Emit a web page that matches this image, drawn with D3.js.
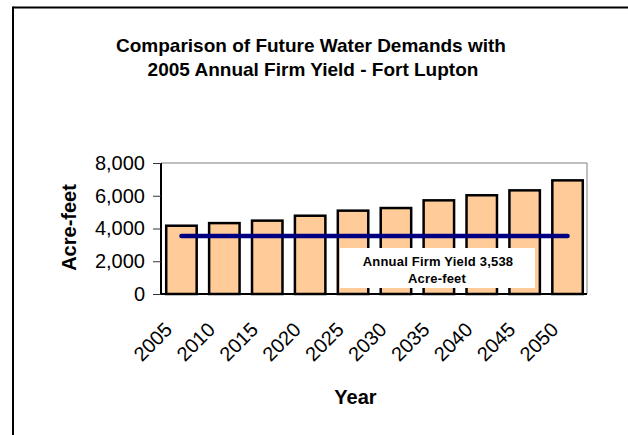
<!DOCTYPE html>
<html>
<head>
<meta charset="utf-8">
<script src="https://cdn.jsdelivr.net/npm/d3@7"></script>
<style>
  html, body { margin: 0; padding: 0; background: #fff; }
  svg { display: block; font-family: "Liberation Sans", Arial, sans-serif; }
</style>
</head>
<body>
<svg id="chart" width="628" height="435"></svg>
<script>
const years = ["2005","2010","2015","2020","2025","2030","2035","2040","2045","2050"];
const demand = [4170, 4330, 4480, 4780, 5090, 5250, 5720, 6030, 6330, 6940];
const firmYield = 3538;
const yTicks = [0, 2000, 4000, 6000, 8000];
const titleLines = ["Comparison of Future Water Demands with", "2005 Annual Firm Yield - Fort Lupton"];
const annotationLines = ["Annual Firm Yield 3,538", "Acre-feet"];

const svg = d3.select("#chart");

// outer frame (top and left visible)
svg.append("line").attr("x1", 13).attr("x2", 628).attr("y1", 7.5).attr("y2", 7.5)
  .attr("stroke", "#000").attr("stroke-width", 2);
svg.append("line").attr("x1", 13).attr("x2", 13).attr("y1", 6.5).attr("y2", 435)
  .attr("stroke", "#000").attr("stroke-width", 2);

// title
svg.append("text").attr("x", 311).attr("y", 51.5).attr("text-anchor", "middle")
  .attr("font-size", 19).attr("font-weight", "bold").text(titleLines[0]);
svg.append("text").attr("x", 313).attr("y", 75.5).attr("text-anchor", "middle")
  .attr("font-size", 19).attr("font-weight", "bold").text(titleLines[1]);

const plotLeft = 161, plotRight = 587, plotTop = 163, plotBottom = 294;

const x = d3.scaleBand().domain(years).range([160, 589])
  .paddingInner(0.29).paddingOuter(0.145);
const y = d3.scaleLinear().domain([0, 8000]).range([plotBottom, plotTop]);

// plot area border (top & right, gray)
svg.append("path")
  .attr("d", `M${plotLeft},${plotTop}H${plotRight}V${plotBottom}`)
  .attr("fill", "none").attr("stroke", "#808080").attr("stroke-width", 1);

// bars
svg.append("g").selectAll("rect").data(demand).join("rect")
  .attr("x", (d, i) => x(years[i]))
  .attr("y", d => y(d))
  .attr("width", x.bandwidth())
  .attr("height", d => y(0) - y(d))
  .attr("fill", "#FFCC99")
  .attr("stroke", "#000").attr("stroke-width", 2.5);

// annotation box
svg.append("rect").attr("x", 340).attr("y", 248).attr("width", 195).attr("height", 40)
  .attr("fill", "#fff");
svg.append("text").attr("x", 438).attr("y", 266).attr("text-anchor", "middle")
  .attr("font-size", 13).attr("font-weight", "bold").attr("letter-spacing", 0.2).text(annotationLines[0]);
svg.append("text").attr("x", 437).attr("y", 282.5).attr("text-anchor", "middle")
  .attr("font-size", 13).attr("font-weight", "bold").attr("letter-spacing", 0.2).text(annotationLines[1]);

// firm yield line
const cx = d => x(d) + x.bandwidth() / 2;
svg.append("line")
  .attr("x1", cx(years[0])).attr("x2", cx(years[years.length - 1]))
  .attr("y1", y(firmYield)).attr("y2", y(firmYield))
  .attr("stroke", "#000080").attr("stroke-width", 4.5).attr("stroke-linecap", "round");

// y axis
const yAxis = svg.append("g").attr("transform", `translate(${plotLeft},0)`)
  .call(d3.axisLeft(y).tickValues(yTicks).tickFormat(d3.format(",")).tickSize(8).tickPadding(8));
yAxis.select(".domain").attr("stroke", "#000").attr("stroke-width", 2)
  .attr("d", `M0,${plotTop}V${plotBottom}`);
yAxis.selectAll(".tick line").attr("stroke", "#333");
yAxis.selectAll(".tick text").attr("font-size", 20).attr("fill", "#000")
  .attr("font-family", "Liberation Sans, Arial, sans-serif");

// x axis
const xAxis = svg.append("g").attr("transform", `translate(0,${plotBottom})`)
  .call(d3.axisBottom(x).tickSize(0).tickPadding(0));
xAxis.select(".domain").attr("stroke", "#000").attr("stroke-width", 2)
  .attr("d", `M${plotLeft},0H${plotRight}`);
xAxis.selectAll(".tick text")
  .attr("font-size", 20).attr("fill", "#000")
  .attr("font-family", "Liberation Sans, Arial, sans-serif")
  .attr("text-anchor", "end")
  .attr("dy", 0)
  .attr("y", 0)
  .attr("transform", "translate(-8,37) rotate(-45)");

// axis titles
svg.append("text").attr("x", 355.5).attr("y", 404).attr("text-anchor", "middle")
  .attr("font-size", 20).attr("font-weight", "bold").text("Year");
svg.append("text").attr("transform", "translate(76,227.5) rotate(-90)")
  .attr("text-anchor", "middle").attr("font-size", 20).attr("font-weight", "bold").text("Acre-feet");
</script>
</body>
</html>
